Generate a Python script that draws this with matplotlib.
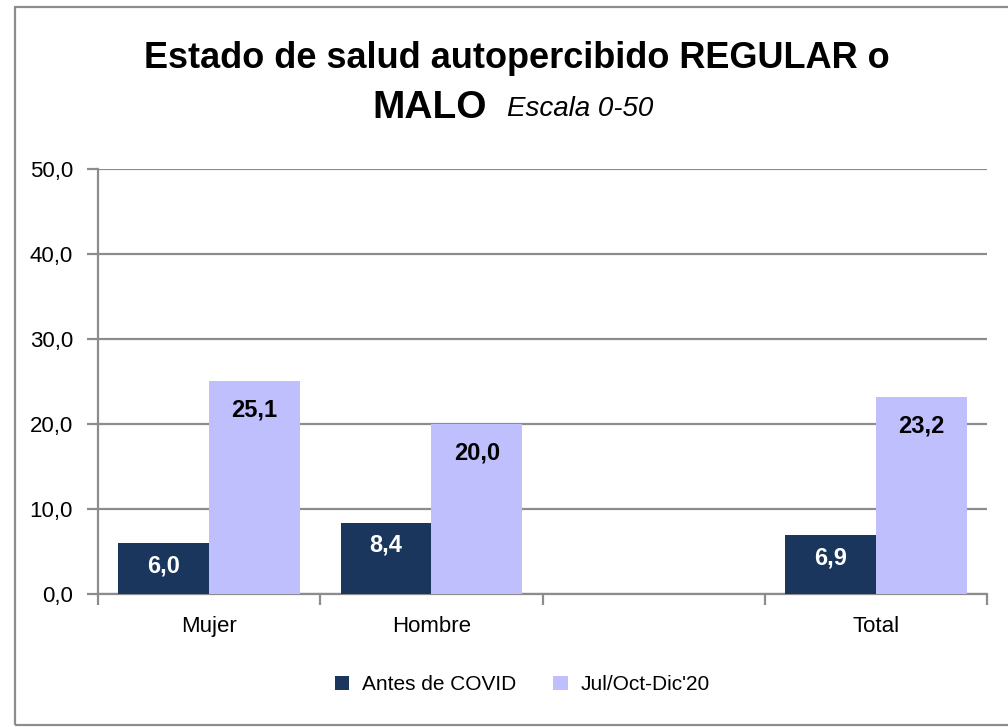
import numpy as np
import matplotlib.pyplot as plt
from matplotlib.patches import Rectangle

plt.rcParams['font.family'] = ['Liberation Sans Narrow', 'Liberation Sans', 'DejaVu Sans']

categorias = ['Mujer', 'Hombre', '', 'Total']
antes = [6.0, 8.4, np.nan, 6.9]
jul_dic = [25.1, 20.0, np.nan, 23.2]
series = ['Antes de COVID', "Jul/Oct-Dic'20"]
colores = ['#1b365d', '#bfbffe']

fig = plt.figure(figsize=(10.08, 7.27), dpi=100)
ax = fig.add_axes([0.0972, 0.183, 0.882, 0.5845])

x = np.arange(len(categorias))
w = 0.408
b1 = ax.bar(x - w / 2, antes, w, color=colores[0], label=series[0], zorder=3)
b2 = ax.bar(x + w / 2, jul_dic, w, color=colores[1], label=series[1], zorder=3)

# etiquetas de valores
for rect, v in zip(b1, antes):
    if np.isnan(v):
        continue
    ax.text(rect.get_x() + rect.get_width() / 2, v - 1.3, f'{v:.1f}'.replace('.', ','),
            ha='center', va='top', color='white', fontsize=17, fontweight='bold', zorder=4)
for rect, v in zip(b2, jul_dic):
    if np.isnan(v):
        continue
    ax.text(rect.get_x() + rect.get_width() / 2, v - 2.1, f'{v:.1f}'.replace('.', ','),
            ha='center', va='top', color='black', fontsize=17, fontweight='bold', zorder=4)

ax.set_xlim(-0.5, len(categorias) - 0.5)
ax.set_ylim(0, 50)
ax.set_yticks(np.arange(0, 51, 10))
ax.set_yticklabels([f'{t:.1f}'.replace('.', ',') for t in np.arange(0, 51, 10)], fontsize=16)
ax.yaxis.grid(True, color='#8c8c8c', linewidth=1.6, zorder=0)

ax.set_xticks(x)
ax.set_xticklabels(categorias, fontsize=16)
ax.set_xticks(np.arange(-0.5, len(categorias)), minor=True)
ax.tick_params(axis='x', which='major', length=0, pad=16)
ax.tick_params(axis='x', which='minor', length=8, width=1.6, color='#8c8c8c')
ax.tick_params(axis='y', length=8, width=1.6, color='#8c8c8c', pad=10)

for s in ['top', 'right']:
    ax.spines[s].set_visible(False)
for s in ['left', 'bottom']:
    ax.spines[s].set_color('#8c8c8c')
    ax.spines[s].set_linewidth(1.6)

# titulo
fig.text(0.513, 0.919, 'Estado de salud autopercibido REGULAR o', ha='center', va='center',
         fontsize=26, fontweight='bold')
fig.text(0.483, 0.852, 'MALO', ha='right', va='center', fontsize=28, fontweight='bold')
fig.text(0.503, 0.85, 'Escala 0-50', ha='left', va='center', fontsize=20, style='italic')

leg = fig.legend(handles=[b1, b2], labels=series, loc='center', bbox_to_anchor=(0.518, 0.058),
                 ncol=2, frameon=False, fontsize=15, handlelength=0.7, handleheight=0.7,
                 columnspacing=1.8, handletextpad=0.6)

# borde exterior
fig.patches.append(Rectangle((0.015, 0.003), 1.2, 0.988, transform=fig.transFigure,
                             fill=False, edgecolor='#8c8c8c', linewidth=1.6))

fig.savefig('out.png', dpi=100)
